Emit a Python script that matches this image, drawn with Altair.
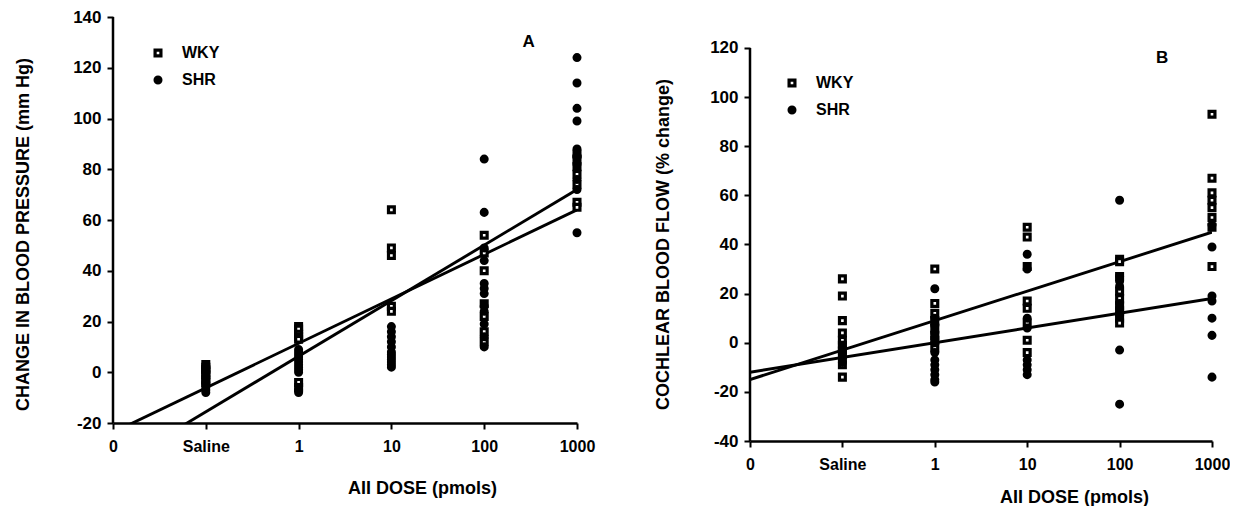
import altair as alt
import pandas as pd

FONT = "Liberation Sans"
DOSES = ["0", "Saline", "1", "10", "100", "1000"]
GROUPS = ["WKY", "SHR"]

# ---- Panel A: change in blood pressure (mm Hg) ----
a_wky_saline = [3, 2, 1, 0, -1, -3, -4]
a_wky_1 = [18, 17, 15, 14, 13, -4, -6]
a_wky_10 = [64, 49, 46, 26, 24]
a_wky_100 = [54, 47, 40, 27, 22, 16, 12]
a_wky_1000 = [86, 84, 81, 78, 74, 67, 65]

a_shr_saline = [2, 0, -2, -4, -5, -6, -7, -8]
a_shr_1 = [9, 8, 7, 6, 5, 4, 3, 2, 1, 0, -7, -8]
a_shr_10 = [18, 16, 14, 12, 10, 8, 7, 6, 5, 4, 3, 2]
a_shr_100 = [84, 63, 49, 44, 35, 33, 31, 26, 24, 19, 14, 10]
a_shr_1000 = [124, 114, 104, 99, 88, 85, 82, 76, 72, 55]

# regression lines: values at dose positions "0" and "1000"
a_wky_fit = [-23.7, 64.0]
a_shr_fit = [-37.5, 72.0]
a_axis_range = [-20, 140]

# ---- Panel B: cochlear blood flow (% change) ----
b_wky_saline = [26, 19, 9, 4, 1, -1, -3, -5, -9, -14]
b_wky_1 = [30, 16, 12, 9, 6, 3, 1, -2]
b_wky_10 = [47, 43, 31, 17, 14, 8, 1, -4]
b_wky_100 = [34, 33, 27, 21, 18, 15, 13, 10, 8]
b_wky_1000 = [93, 67, 61, 58, 55, 51, 47, 31]

b_shr_saline = [-2, -3, -4, -6, -7, -8]
b_shr_1 = [22, 10, 7, 4, 0, -4, -7, -9, -11, -13, -15, -16]
b_shr_10 = [36, 30, 10, 6, -7, -9, -11, -13]
b_shr_100 = [58, 27, 25, 23, 16, 12, 11, -3, -25]
b_shr_1000 = [48, 39, 19, 17, 10, 3, -14]

b_wky_fit = [-15.0, 45.0]
b_shr_fit = [-12.0, 18.0]
b_axis_range = [-40, 120]

LABEL_EXPR = "[" + ",".join("'%s'" % d for d in DOSES) + "][datum.value]"


def points_df(items):
    rows = []
    for dose, group, vals in items:
        for v in vals:
            rows.append({"x": DOSES.index(dose), "group": group, "value": v})
    return pd.DataFrame(rows)


def lines_df(fits):
    rows = []
    for group, vals in fits:
        rows.append({"x": DOSES.index("0"), "group": group, "value": vals[0]})
        rows.append({"x": DOSES.index("1000"), "group": group, "value": vals[1]})
    return pd.DataFrame(rows)


def panel(pts, lns, label, label_x, label_y, axis_range, scale_top, ytitle, w, h,
          ytitle_x, ytitle_y, xtitle_x, xtitle_y, leg_x, leg_y):
    ymin, ymax = axis_range
    x_enc = alt.X(
        "x:Q",
        scale=alt.Scale(domain=[0, 5], nice=False, zero=False),
        axis=alt.Axis(values=list(range(6)), labelExpr=LABEL_EXPR,
                      title="AII DOSE (pmols)", titleX=xtitle_x, titleY=xtitle_y,
                      titleAlign="center", titleBaseline="middle",
                      labelPadding=9, labelFontSize=16),
    )
    y_enc = alt.Y(
        "value:Q",
        scale=alt.Scale(domain=[ymin, scale_top], nice=False, zero=False),
        axis=alt.Axis(values=list(range(ymin, ymax + 1, 20)), title=ytitle,
                      labelExpr="'' + datum.value",
                      titleX=ytitle_x, titleY=ytitle_y, titleAngle=270,
                      titleAlign="center", titleBaseline="middle",
                      labelPadding=6, labelFontSize=17, domain=False),
    )
    legend = alt.Legend(
        title=None, orient="none", legendX=leg_x, legendY=leg_y, padding=0,
        labelFont=FONT, labelFontSize=16, labelFontWeight="bold", labelColor="black",
        symbolStrokeWidth=3.2, symbolSize=34,
        rowPadding=7, labelOffset=16,
    )
    yaxis_line = alt.Chart(
        pd.DataFrame({"x": [0], "value": [ymin], "value2": [ymax]})
    ).mark_rule(color="black", strokeWidth=2.5).encode(
        x=x_enc, y=y_enc, y2="value2:Q"
    )
    fits = alt.Chart(lns).mark_line(color="black", strokeWidth=2.9, clip=True).encode(
        x=x_enc, y=y_enc, detail="group:N"
    )
    dots = alt.Chart(pts).mark_point(
        filled=True, strokeWidth=3.2, size=34, opacity=1
    ).encode(
        x=x_enc, y=y_enc,
        shape=alt.Shape("group:N", scale=alt.Scale(domain=GROUPS, range=["square", "circle"]), legend=legend),
        fill=alt.Fill("group:N", scale=alt.Scale(domain=GROUPS, range=["white", "black"]), legend=legend),
        stroke=alt.Stroke("group:N", scale=alt.Scale(domain=GROUPS, range=["black", "black"]), legend=legend),
    )
    lab = alt.Chart(pd.DataFrame({"x": [label_x], "value": [label_y], "t": [label]})).mark_text(
        font=FONT, fontSize=17, fontWeight="bold", color="black"
    ).encode(x=x_enc, y=y_enc, text="t:N")
    return alt.layer(yaxis_line, fits, dots, lab).properties(width=w, height=h)


pts_a = points_df([
    ("Saline", "WKY", a_wky_saline), ("1", "WKY", a_wky_1), ("10", "WKY", a_wky_10),
    ("100", "WKY", a_wky_100), ("1000", "WKY", a_wky_1000),
    ("Saline", "SHR", a_shr_saline), ("1", "SHR", a_shr_1), ("10", "SHR", a_shr_10),
    ("100", "SHR", a_shr_100), ("1000", "SHR", a_shr_1000),
])
pts_b = points_df([
    ("Saline", "WKY", b_wky_saline), ("1", "WKY", b_wky_1), ("10", "WKY", b_wky_10),
    ("100", "WKY", b_wky_100), ("1000", "WKY", b_wky_1000),
    ("Saline", "SHR", b_shr_saline), ("1", "SHR", b_shr_1), ("10", "SHR", b_shr_10),
    ("100", "SHR", b_shr_100), ("1000", "SHR", b_shr_1000),
])

# Panel B's plot area starts 31 px lower than A's: its scale runs a little above 120
chart_a = panel(pts_a, lines_df([("WKY", a_wky_fit), ("SHR", a_shr_fit)]), "A", 4.48, 130,
                a_axis_range, 140, "CHANGE IN BLOOD PRESSURE (mm Hg)", 464, 406,
                -90, 217, 309, 65, 37, 28)
chart_b = panel(pts_b, lines_df([("WKY", b_wky_fit), ("SHR", b_shr_fit)]), "B", 4.46, 116,
                b_axis_range, 132.6, "COCHLEAR BLOOD FLOW (% change)", 462, 424,
                -87, 227, 324, 56, 34, 58)

chart = alt.hconcat(chart_a, chart_b, spacing=58).resolve_scale(
    x="independent", y="independent", shape="independent", fill="independent",
    stroke="independent",
).resolve_legend(
    shape="independent", fill="independent", stroke="independent"
).configure(
    background="white"
).configure_view(
    stroke=None
).configure_axis(
    domainColor="black", domainWidth=2.5, tickColor="black", tickWidth=2, tickSize=6,
    labelFont=FONT, labelFontSize=16, labelFontWeight="bold", labelColor="black",
    titleFont=FONT, titleFontSize=18, titleFontWeight="bold", titleColor="black",
    grid=False, labelFlush=False, labelOverlap=False,
).properties(padding={"left": 5, "top": 0, "right": 0, "bottom": 0})

chart.save("out.html", embed_options={"renderer": "svg", "actions": False})
